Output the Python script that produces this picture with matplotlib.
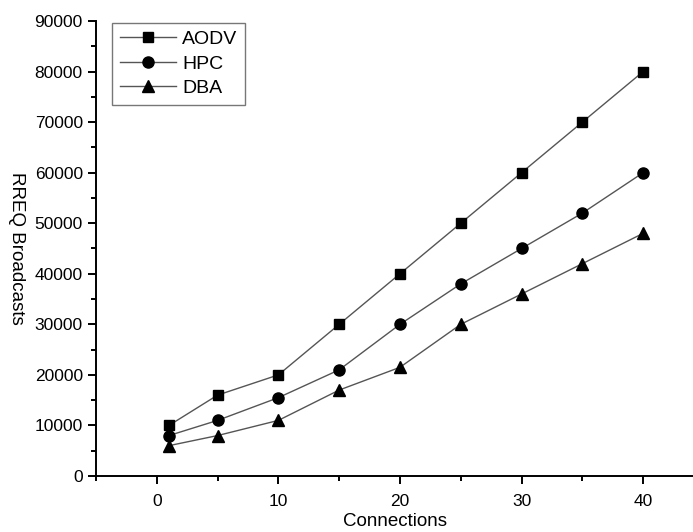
import matplotlib
matplotlib.use("Agg")
import matplotlib.pyplot as plt
from matplotlib.ticker import MultipleLocator

plt.rcParams['font.family'] = ['Liberation Sans', 'DejaVu Sans']

connections = [1, 5, 10, 15, 20, 25, 30, 35, 40]
aodv = [10000, 16000, 20000, 30000, 40000, 50000, 60000, 70000, 80000]
hpc = [8000, 11000, 15500, 21000, 30000, 38000, 45000, 52000, 60000]
dba = [6000, 8000, 11000, 17000, 21500, 30000, 36000, 42000, 48000]
series_names = ["AODV", "HPC", "DBA"]
y_ticks = [0, 10000, 20000, 30000, 40000, 50000, 60000, 70000, 80000, 90000]
x_ticks = [0, 10, 20, 30, 40]

fig = plt.figure(figsize=(6.93, 5.32), dpi=100)
ax = fig.add_axes([96/693, 56/532, 1 - 96/693, 455/532])

line_color = "#555555"
ax.plot(connections, aodv, color=line_color, lw=1.0, marker='s', ms=7,
        mfc='black', mec='black', label=series_names[0])
ax.plot(connections, hpc, color=line_color, lw=1.0, marker='o', ms=8,
        mfc='black', mec='black', label=series_names[1])
ax.plot(connections, dba, color=line_color, lw=1.0, marker='^', ms=8.5,
        mfc='black', mec='black', label=series_names[2])

ax.set_xlim(-5, 44.1)
ax.set_ylim(0, 90000)
ax.set_xticks(x_ticks)
ax.set_yticks(y_ticks)
ax.xaxis.set_minor_locator(MultipleLocator(5))
ax.yaxis.set_minor_locator(MultipleLocator(5000))

for side in ['top', 'right']:
    ax.spines[side].set_visible(False)
for side in ['left', 'bottom']:
    ax.spines[side].set_linewidth(1.4)

ax.tick_params(axis='both', which='major', direction='out', length=6, width=1.4,
               labelsize=12.5, colors='black')
ax.tick_params(axis='x', which='major', pad=7)
ax.tick_params(axis='both', which='minor', direction='out', length=3.5, width=1.4)

ax.set_xlabel("Connections", fontsize=13.5, labelpad=3)
ax.set_ylabel("RREQ Broadcasts", fontsize=13.5, rotation=270)
ax.yaxis.set_label_coords(-0.147, 0.5)

leg = ax.legend(loc='upper left', bbox_to_anchor=(0.027, 0.996), fontsize=14,
                frameon=True, fancybox=False, edgecolor='#555555',
                handlelength=2.9, labelspacing=0.35, borderpad=0.4,
                handletextpad=0.3, borderaxespad=0)
leg.get_frame().set_linewidth(1.0)

fig.savefig("out.png", dpi=100)
